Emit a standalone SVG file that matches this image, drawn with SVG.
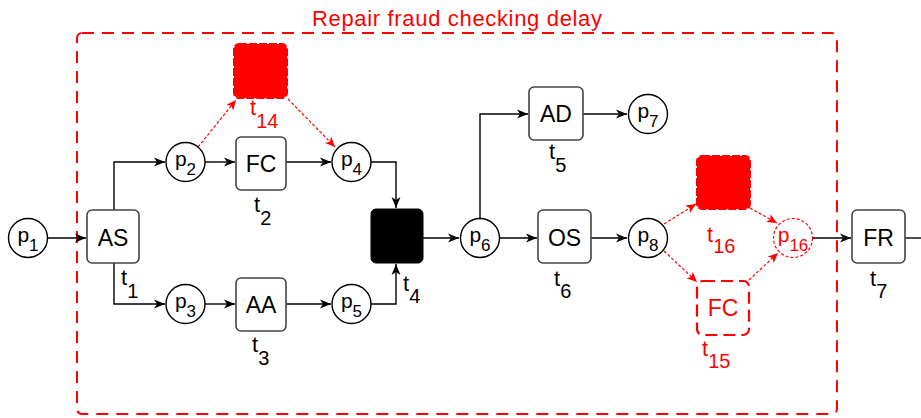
<svg xmlns="http://www.w3.org/2000/svg" width="921" height="418" viewBox="0 0 921 418">
<defs>
<marker id="ab" markerWidth="12" markerHeight="10" refX="11" refY="5" orient="auto" markerUnits="userSpaceOnUse"><path d="M0,0.5 L11,5 L0,9.5 L3,5 z" fill="#000"/></marker>
<marker id="ar" markerWidth="10" markerHeight="9" refX="10" refY="4.5" orient="auto" markerUnits="userSpaceOnUse"><path d="M0,0 L10,4.5 L0,9 L2.5,4.5 z" fill="#ff0000"/></marker>
<style>
text{font-family:"Liberation Sans",Arial,sans-serif;fill:#000}
.red{fill:#ff0000}
.place{fill:#fff;stroke:#000;stroke-width:1.4}
.trans{fill:#fff;stroke:#444;stroke-width:1.6}
.nl{font-size:23px;text-anchor:middle}
.pl{font-size:21px;text-anchor:middle}
.tl{font-size:22px}
.c{fill:none;stroke:#000;stroke-width:1.4}
.cr{fill:none;stroke:#ff0000;stroke-width:1.2;stroke-dasharray:3 2}
</style>
</defs>

<g id="region">
<rect x="77" y="33" width="760" height="381" rx="5" fill="none" stroke="#ff0000" stroke-width="2" stroke-dasharray="12 8"/>
<text x="312" y="26" class="red" font-size="22" textLength="290" lengthAdjust="spacing">Repair fraud checking delay</text>
</g>

<g id="connectors">
<path class="c" d="M48,238 H86" marker-end="url(#ab)"/>
<path class="c" d="M114,210 V162 H165" marker-end="url(#ab)"/>
<path class="c" d="M114,263 V304 H165" marker-end="url(#ab)"/>
<path class="c" d="M205,162 H235" marker-end="url(#ab)"/>
<path class="c" d="M286,162 H331" marker-end="url(#ab)"/>
<path class="c" d="M371,162 H396 V208" marker-end="url(#ab)"/>
<path class="c" d="M205,304 H235" marker-end="url(#ab)"/>
<path class="c" d="M286,304 H331" marker-end="url(#ab)"/>
<path class="c" d="M371,304 H396 V264" marker-end="url(#ab)"/>
<path class="c" d="M423,238 H459" marker-end="url(#ab)"/>
<path class="c" d="M480,218 V114 H528" marker-end="url(#ab)"/>
<path class="c" d="M583,114 H627" marker-end="url(#ab)"/>
<path class="c" d="M500,238 H537" marker-end="url(#ab)"/>
<path class="c" d="M591,238 H627" marker-end="url(#ab)"/>
<path class="c" d="M813,238 H851" marker-end="url(#ab)"/>
<path class="c" d="M905,238 H921"/>
<path class="cr" d="M198,147 L236,100" marker-end="url(#ar)"/>
<path class="cr" d="M288,99 L335,147" marker-end="url(#ar)"/>
<path class="cr" d="M664,224 L696,204" marker-end="url(#ar)"/>
<path class="cr" d="M750,208 L777,223" marker-end="url(#ar)"/>
<path class="cr" d="M664,251 L697,282" marker-end="url(#ar)"/>
<path class="cr" d="M749,280 L778,253" marker-end="url(#ar)"/>
</g>

<g id="p1"><circle class="place" cx="28" cy="238" r="19.5"/><text class="pl" x="28" y="242">p<tspan font-size="17" dy="9">1</tspan></text></g>
<g id="p2"><circle class="place" cx="185.5" cy="162" r="19.5"/><text class="pl" x="185.5" y="166">p<tspan font-size="17" dy="9">2</tspan></text></g>
<g id="p3"><circle class="place" cx="185.5" cy="304" r="19.5"/><text class="pl" x="185.5" y="308">p<tspan font-size="17" dy="9">3</tspan></text></g>
<g id="p4"><circle class="place" cx="351.5" cy="162" r="19.5"/><text class="pl" x="351.5" y="166">p<tspan font-size="17" dy="9">4</tspan></text></g>
<g id="p5"><circle class="place" cx="351.5" cy="304" r="19.5"/><text class="pl" x="351.5" y="308">p<tspan font-size="17" dy="9">5</tspan></text></g>
<g id="p6"><circle class="place" cx="480" cy="238" r="19.5"/><text class="pl" x="480" y="242">p<tspan font-size="17" dy="9">6</tspan></text></g>
<g id="p7"><circle class="place" cx="648" cy="114" r="19.5"/><text class="pl" x="648" y="118">p<tspan font-size="17" dy="9">7</tspan></text></g>
<g id="p8"><circle class="place" cx="648" cy="238" r="19.5"/><text class="pl" x="648" y="242">p<tspan font-size="17" dy="9">8</tspan></text></g>
<g id="p16"><circle cx="793" cy="238" r="19.5" fill="#fff" stroke="#ff0000" stroke-width="1.2" stroke-dasharray="3 2"/><text class="pl red" x="793" y="242">p<tspan font-size="17" dy="9">16</tspan></text></g>

<g id="t1"><rect class="trans" x="87" y="210" width="52" height="53" rx="5"/><text class="nl" x="113" y="246">AS</text><text class="tl" x="121" y="285">t<tspan font-size="20" dy="13">1</tspan></text></g>
<g id="t2"><rect class="trans" x="236" y="137" width="50" height="53" rx="5"/><text class="nl" x="261" y="172">FC</text><text class="tl" x="254" y="212">t<tspan font-size="20" dy="13">2</tspan></text></g>
<g id="t3"><rect class="trans" x="236" y="278" width="50" height="53" rx="5"/><text class="nl" x="261" y="313">AA</text><text class="tl" x="252" y="352">t<tspan font-size="20" dy="13">3</tspan></text></g>
<g id="t4"><rect x="371" y="209" width="52" height="54" rx="5" fill="#000" stroke="#000" stroke-width="1"/><text class="tl" x="403" y="291">t<tspan font-size="20" dy="12">4</tspan></text></g>
<g id="t5"><rect class="trans" x="529" y="87" width="54" height="53" rx="5"/><text class="nl" x="556" y="122">AD</text><text class="tl" x="549" y="159">t<tspan font-size="20" dy="13">5</tspan></text></g>
<g id="t6"><rect class="trans" x="538" y="210" width="53" height="53" rx="5"/><text class="nl" x="564.5" y="246">OS</text><text class="tl" x="554" y="286">t<tspan font-size="20" dy="12">6</tspan></text></g>
<g id="t7"><rect class="trans" x="852" y="210" width="53" height="53" rx="5"/><text class="nl" x="878.5" y="246">FR</text><text class="tl" x="870" y="286">t<tspan font-size="20" dy="12">7</tspan></text></g>
<g id="t14"><rect x="234" y="44" width="53" height="54" rx="5" fill="#ff0000" stroke="#ff0000" stroke-width="2" stroke-dasharray="8 2"/><text class="tl red" x="250" y="115">t<tspan font-size="20" dy="13">14</tspan></text></g>
<g id="t16"><rect x="697" y="156" width="53" height="53" rx="5" fill="#ff0000" stroke="#ff0000" stroke-width="2" stroke-dasharray="8 2"/><text class="tl red" x="707" y="242">t<tspan font-size="20" dy="11">16</tspan></text></g>
<g id="t15"><rect x="697" y="281" width="52" height="54" rx="6" fill="#fff" stroke="#ff0000" stroke-width="2.2" stroke-dasharray="12 6"/><text class="nl red" x="723" y="316">FC</text><text class="tl red" x="702" y="356">t<tspan font-size="20" dy="12">15</tspan></text></g>
</svg>
